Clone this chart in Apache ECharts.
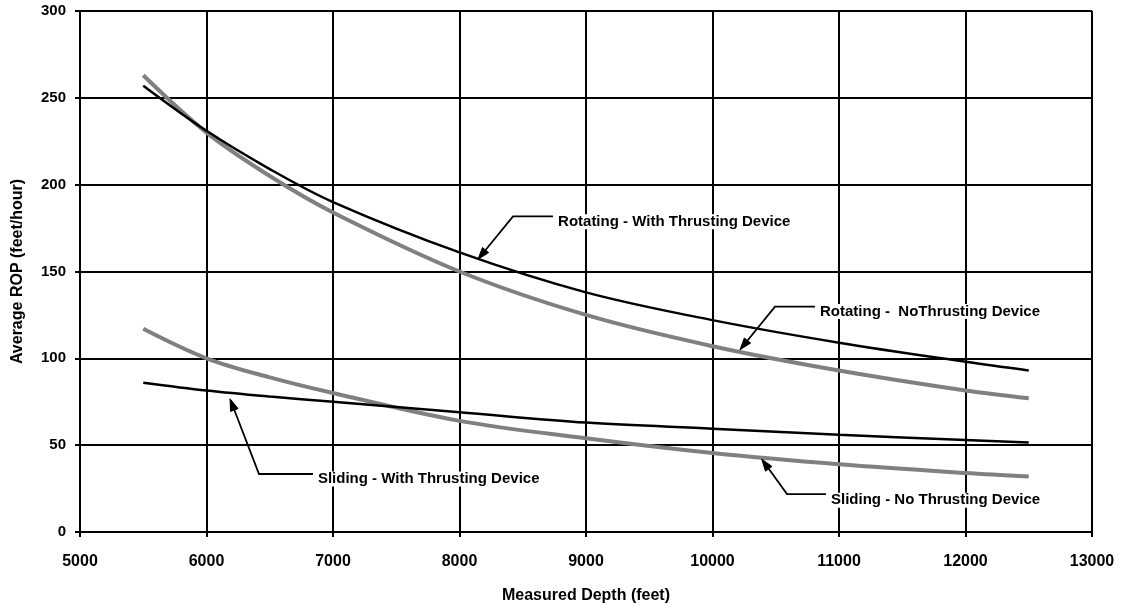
<!DOCTYPE html>
<html>
<head>
<meta charset="utf-8">
<script src="https://cdn.jsdelivr.net/npm/echarts@6/dist/echarts.min.js"></script>
<style>
  html, body { margin: 0; padding: 0; background: #ffffff; }
  #chart { width: 1134px; height: 609px; }
</style>
</head>
<body>
<div id="chart"></div>
<script>
// ---- data ----
const depth      = [5500, 6000, 6500, 7000, 8000, 9000, 10000, 11000, 12000, 12500];
const rotWith    = [257, 231, 209, 190, 161, 138, 122, 109, 98, 93];
const rotNo      = [263, 230, 205, 184, 150, 125, 107, 93, 81.5, 77];
const slideWith  = [86, 81.5, 78, 75, 69, 63, 59.5, 56, 53, 51.5];
const slideNo    = [117, 100, 89, 80, 64, 54, 45.5, 39, 34, 32];

const seriesNames = [
  'Rotating - With Thrusting Device',
  'Rotating -  NoThrusting Device',
  'Sliding - With Thrusting Device',
  'Sliding - No Thrusting Device'
];

// annotation anchors in data space: [tip, corner, lineEnd], textStart
const annotations = [
  { text: seriesNames[0], pts: [[8146, 157], [8423, 181.7], [8739, 181.7]], textAt: [8779, 178.6] },
  { text: seriesNames[1], pts: [[10217, 104.9], [10494, 129.8], [10810, 129.8]], textAt: [10850, 127] },
  { text: seriesNames[2], pts: [[6186, 76.7], [6415, 33.4], [6842, 33.4]], textAt: [6881, 30.5] },
  { text: seriesNames[3], pts: [[10389, 42], [10589, 21.8], [10897, 21.8]], textAt: [10937, 18.3] }
];

const FONT = '"Liberation Sans", Arial, Helvetica, sans-serif';

function pairs(ys) { return depth.map((x, i) => [x, ys[i]]); }

const chart = echarts.init(document.getElementById('chart'), null, { renderer: 'canvas' });

function lineSeries(name, ys, color, width, z) {
  return {
    name: name, type: 'line', data: pairs(ys),
    smooth: 0.35,
    showSymbol: false, symbol: 'none',
    lineStyle: { color: color, width: width }, z: z
  };
}

const option = {
  backgroundColor: '#ffffff',
  animation: false,
  grid: { left: 80, right: 42, top: 11, bottom: 74, containLabel: false },
  xAxis: {
    type: 'value',
    min: 5000, max: 13000, interval: 1000,
    name: 'Measured Depth (feet)',
    nameLocation: 'middle',
    nameGap: 56,
    nameTextStyle: { fontFamily: FONT, fontWeight: 'bold', fontSize: 16, color: '#000' },
    axisLine: { show: true, lineStyle: { color: '#000', width: 2 } },
    axisTick: { show: true, length: 5, lineStyle: { color: '#000', width: 2 } },
    axisLabel: { fontFamily: FONT, fontWeight: 'bold', fontSize: 16, color: '#000', margin: 22,
      formatter: v => String(v) },
    splitLine: { show: true, lineStyle: { color: '#000', width: 2 } }
  },
  yAxis: {
    type: 'value',
    min: 0, max: 300, interval: 50,
    name: 'Average ROP (feet/hour)',
    nameLocation: 'middle',
    nameGap: 54,
    nameTextStyle: { fontFamily: FONT, fontWeight: 'bold', fontSize: 16, color: '#000' },
    axisLine: { show: true, lineStyle: { color: '#000', width: 2 } },
    axisTick: { show: true, length: 5, lineStyle: { color: '#000', width: 2 } },
    axisLabel: { fontFamily: FONT, fontWeight: 'bold', fontSize: 15, color: '#000', margin: 14,
      formatter: v => String(v) },
    splitLine: { show: true, lineStyle: { color: '#000', width: 2 } }
  },
  series: [
    lineSeries(seriesNames[0], rotWith, '#000000', 2.5, 4),
    lineSeries(seriesNames[1], rotNo, '#808080', 4, 3),
    lineSeries(seriesNames[2], slideWith, '#000000', 2.5, 4),
    lineSeries(seriesNames[3], slideNo, '#808080', 4, 3)
  ]
};

chart.setOption(option);

function buildAnnotations() {
  const elements = [];
  annotations.forEach(a => {
    const px = a.pts.map(p => chart.convertToPixel({ gridIndex: 0 }, p));
    const tip = px[0], corner = px[1];
    const dx = tip[0] - corner[0], dy = tip[1] - corner[1];
    const len = Math.sqrt(dx * dx + dy * dy);
    const ux = dx / len, uy = dy / len;
    const headLen = 12, headHalf = 4;
    const base = [tip[0] - ux * headLen, tip[1] - uy * headLen];
    elements.push({
      type: 'polyline',
      shape: { points: [px[2], corner, base] },
      style: { stroke: '#000', lineWidth: 1.8, fill: null },
      z: 10
    });
    elements.push({
      type: 'polygon',
      shape: { points: [
        tip,
        [base[0] - uy * headHalf, base[1] + ux * headHalf],
        [base[0] + uy * headHalf, base[1] - ux * headHalf]
      ] },
      style: { fill: '#000', stroke: '#000', lineWidth: 1 },
      z: 10
    });
    const tp = chart.convertToPixel({ gridIndex: 0 }, a.textAt);
    elements.push({
      type: 'text',
      x: tp[0], y: tp[1],
      style: {
        text: a.text,
        font: 'bold 15px ' + FONT,
        fill: '#000',
        textAlign: 'left',
        textVerticalAlign: 'middle',
        backgroundColor: '#fff'
      },
      z: 11
    });
  });
  chart.setOption({ graphic: { elements: elements } });
}
buildAnnotations();
</script>
</body>
</html>
